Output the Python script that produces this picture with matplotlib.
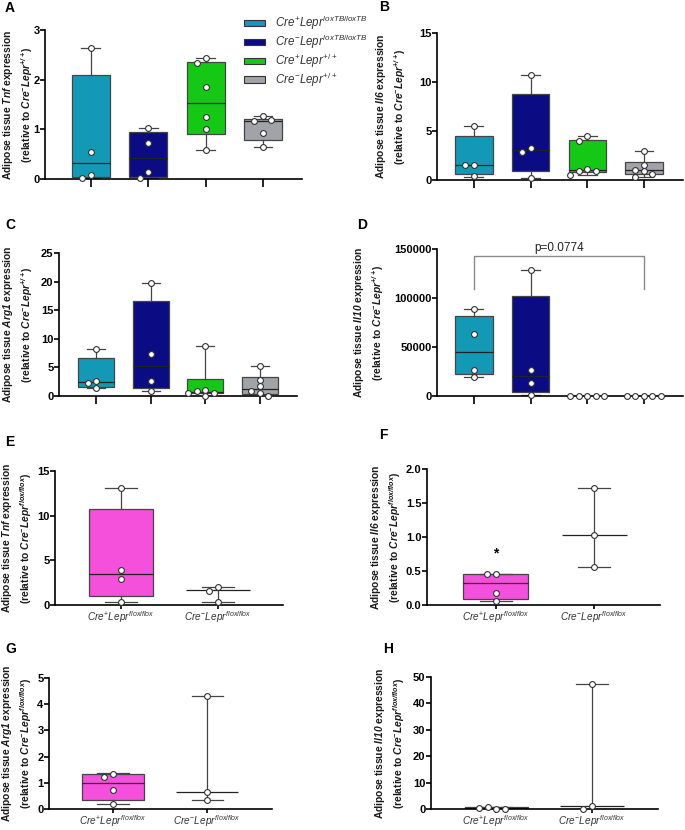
"""
Adipose tissue cytokine expression, box plots A-H
"""
import numpy as np
import matplotlib.pyplot as plt
from matplotlib.patches import Patch

plt.rcParams['font.family'] = ['Liberation Sans', 'DejaVu Sans']
plt.rcParams['mathtext.fontset'] = 'custom'
plt.rcParams['mathtext.rm'] = 'Liberation Sans'
plt.rcParams['mathtext.it'] = 'Liberation Sans:italic'
plt.rcParams['mathtext.bf'] = 'Liberation Sans:bold'
plt.rcParams['mathtext.bfit'] = 'Liberation Sans:italic:bold'

W, H = 685, 830

teal = '#1399b5'
navy = '#0b0b84'
green = '#16c816'
grey = '#a2a2a9'
pink = '#f550dc'

# legend / group labels
groups_top = [r'$\mathit{Cre^{+}Lepr^{loxTB/loxTB}}$', r'$\mathit{Cre^{-}Lepr^{loxTB/loxTB}}$',
              r'$\mathit{Cre^{+}Lepr^{+/+}}$', r'$\mathit{Cre^{-}Lepr^{+/+}}$']
groups_bot = [r'$\mathit{Cre^{+}Lepr^{flox/flox}}$', r'$\mathit{Cre^{-}Lepr^{flox/flox}}$']

# box stats: (min, q1, median, q3, max) and the individual points
A_box = [(0.02, 0.05, 0.32, 2.09, 2.63), (0.02, 0.05, 0.43, 0.94, 1.03),
         (0.59, 0.90, 1.54, 2.35, 2.43), (0.64, 0.78, 1.17, 1.21, 1.26)]
A_pts = [[2.63, 0.54, 0.09, 0.02], [1.03, 0.72, 0.14, 0.02],
         [2.43, 2.33, 1.85, 1.24, 1.00, 0.59], [1.26, 1.16, 1.18, 0.92, 0.64]]

B_box = [(0.35, 0.65, 1.50, 4.47, 5.49), (0.17, 0.89, 3.07, 8.76, 10.7),
         (0.48, 0.78, 0.99, 4.06, 4.53), (0.31, 0.58, 0.99, 1.88, 2.93)]
B_pts = [[5.49, 1.50, 1.50, 0.40], [10.7, 3.30, 2.83, 0.17],
         [4.53, 3.98, 1.09, 0.95, 0.92, 0.48], [2.93, 1.57, 1.06, 0.92, 0.65, 0.31]]

C_box = [(1.35, 1.58, 2.46, 6.73, 8.2), (0.94, 1.35, 5.2, 16.6, 19.8),
         (0.05, 0.53, 0.76, 2.93, 8.78), (0.05, 0.41, 1.29, 3.33, 5.2)]
C_pts = [[8.2, 2.69, 2.28, 1.35], [19.8, 7.43, 2.69, 0.94],
         [8.78, 1.11, 0.88, 0.60, 0.55, 0.05], [5.2, 2.75, 1.70, 0.82, 0.53, 0.05]]

D_box = [(19800, 22200, 45400, 81300, 88500), (1000, 4100, 20200, 102200, 128100),
         (0, 0, 0, 0, 0), (0, 0, 0, 0, 0)]
D_pts = [[88500, 63200, 27000, 19800], [128100, 26300, 13300, 1000],
         [0, 0, 0, 0, 0], [0, 0, 0, 0, 0]]
D_pval = 'p=0.0774'

E_box = [(0.30, 1.00, 3.52, 10.8, 13.15), (0.30, 1.63, 1.63, 1.63, 2.07)]
E_pts = [[13.15, 3.96, 2.96, 0.30], [2.07, 1.60, 0.30]]

F_box = [(0.06, 0.09, 0.32, 0.45, 0.45), (0.56, 1.03, 1.03, 1.03, 1.72)]
F_pts = [[0.45, 0.45, 0.175, 0.06], [1.72, 1.03, 0.56]]

G_box = [(0.19, 0.34, 0.99, 1.32, 1.37), (0.36, 0.65, 0.65, 0.65, 4.32)]
G_pts = [[1.35, 1.22, 0.74, 0.19], [4.32, 0.65, 0.36]]

H_box = [(0.05, 0.15, 0.45, 0.6, 0.7), (0.1, 1.0, 1.0, 1.0, 47.2)]
H_pts = [[0.1, 0.7, 0.05, 0.4], [47.2, 1.0, 0.1]]

fig = plt.figure(figsize=(W / 100, H / 100), dpi=100)


def px_axes(x0, y0, x1, y1):
    # left, top, right, bottom in pixels
    return fig.add_axes([x0 / W, 1 - y1 / H, (x1 - x0) / W, (y1 - y0) / H])


def swarm(vals, ppx, ppy, step=8.5, dmin=6.0):
    # simple beeswarm in pixel space, returns x offsets in data units
    placed = []
    offs = []
    for v in vals:
        cands = [0]
        for i in range(1, 8):
            cands += [-i, i]
        for c in cands:
            xo = c * step
            ok = True
            for (px, py) in placed:
                if np.hypot(xo - px, (v - py) * ppy) < dmin:
                    ok = False
                    break
            if ok:
                break
        placed.append((xo, v))
        offs.append(xo / ppx)
    return offs


def panel(x0, y0, x1, y1, xlim, ymax, yticks, boxdata, pts, colors, width=0.66,
          ticklabels=None, fmt=None):
    ax = px_axes(x0, y0, x1, y1)
    n = len(boxdata)
    pos = np.arange(1, n + 1)
    stats = []
    for b in boxdata:
        stats.append(dict(whislo=b[0], q1=b[1], med=b[2], q3=b[3], whishi=b[4], fliers=[]))
    bp = ax.bxp(stats, positions=pos, widths=width, patch_artist=True, showfliers=False,
                capwidths=width * 0.5,
                boxprops=dict(edgecolor='#444444', linewidth=0.9),
                whiskerprops=dict(color='#444444', linewidth=0.9),
                capprops=dict(color='#444444', linewidth=0.9),
                medianprops=dict(color='#222222', linewidth=0.9))
    for patch, c in zip(bp['boxes'], colors):
        patch.set_facecolor(c)
        if c == 'none':
            patch.set_edgecolor('none')
    ax.set_xlim(*xlim)
    ax.set_ylim(0, ymax)
    ppx = (x1 - x0) / (xlim[1] - xlim[0])
    ppy = (y1 - y0) / ymax
    for p, vals in zip(pos, pts):
        offs = swarm(vals, ppx, ppy)
        ax.plot(p + np.array(offs), vals, 'o', ms=4.2, mfc='white', mec='#333333',
                mew=0.8, zorder=5, clip_on=False)
    ax.spines['top'].set_visible(False)
    ax.spines['right'].set_visible(False)
    ax.spines['left'].set_linewidth(1.2)
    ax.spines['bottom'].set_linewidth(1.2)
    ax.set_yticks(yticks)
    if fmt:
        ax.set_yticklabels([fmt.format(t) for t in yticks])
    else:
        ax.set_yticklabels([str(t) for t in yticks])
    for lbl in ax.get_yticklabels():
        lbl.set_fontweight('bold')
    ax.tick_params(axis='y', length=3.5, width=1.2, labelsize=8, pad=0.5)
    ax.set_xticks(pos)
    if ticklabels:
        ax.set_xticklabels(ticklabels, fontsize=7.2, color='#333333')
        ax.tick_params(axis='x', length=3, width=1.2, pad=0)
    else:
        ax.set_xticklabels([])
        ax.tick_params(axis='x', length=6, width=1.2)
    return ax


top4 = [teal, navy, green, grey]
two = [pink, 'none']

axA = panel(45, 30, 302, 179, (0.2, 4.68), 3, [0, 1, 2, 3], A_box, A_pts, top4)
axB = panel(437, 33, 683, 180, (0.35, 4.69), 15, [0, 5, 10, 15], B_box, B_pts, top4)
axC = panel(59, 253, 297, 396, (0.32, 4.68), 25, [0, 5, 10, 15, 20, 25], C_box, C_pts, top4)
axD = panel(437, 249, 683, 396, (0.35, 4.69), 150000, [0, 50000, 100000, 150000],
            D_box, D_pts, top4)
axE = panel(55, 471, 283, 605, (0.32, 2.67), 15, [0, 5, 10, 15], E_box, E_pts, two,
            ticklabels=groups_bot)
axF = panel(427, 469, 660, 605, (0.30, 2.67), 2.0, [0, 0.5, 1.0, 1.5, 2.0], F_box, F_pts,
            two, ticklabels=groups_bot, fmt='{:.1f}')
axG = panel(49, 678, 272, 809, (0.32, 2.69), 5, [0, 1, 2, 3, 4, 5], G_box, G_pts, two,
            ticklabels=groups_bot)
axH = panel(431, 677, 658, 809, (0.32, 2.69), 50, [0, 10, 20, 30, 40, 50], H_box, H_pts,
            two, ticklabels=groups_bot)

# significance bracket in D
axD.plot([1, 1, 4, 4], [109000, 142500, 142500, 109000], color='#8a8a8a', lw=1.0,
         clip_on=False)
axD.text(2.5, 145000, D_pval, ha='center', va='bottom', fontsize=8.5, color='#222222')

# asterisk in F
axF.text(1, 0.66, '*', ha='center', va='bottom', fontsize=10, fontweight='bold')

# y labels
genes = ['Tnf', 'Il6', 'Arg1', 'Il10', 'Tnf', 'Il6', 'Arg1', 'Il10']
refs = [r'\mathbfit{Cre^{-}Lepr^{+/+}}'] * 4 + [r'\mathbfit{Cre^{-}Lepr^{flox/flox}}'] * 4
lab_x = [18, 391, 18, 369, 17, 386, 17, 390]
axes_all = [axA, axB, axC, axD, axE, axF, axG, axH]
for ax, g, r, lx in zip(axes_all, genes, refs, lab_x):
    bb = ax.get_position()
    yc = (bb.y0 + bb.y1) / 2
    txt = 'Adipose tissue $\\mathbfit{' + g + '}$ expression\n(relative to $' + r + '$)'
    fig.text(lx / W, yc, txt, rotation=90, ha='center', va='center', fontsize=7.4,
             fontweight='bold', multialignment='center', linespacing=1.3, color='#1a1a1a')

# panel letters
letters = [('A', 5, 8), ('B', 379, 7), ('C', 5, 225), ('D', 357, 225),
           ('E', 5, 442), ('F', 379, 435), ('G', 5, 649), ('H', 383, 649)]
for t, x, y in letters:
    fig.text(x / W, 1 - y / H, t, ha='left', va='center', fontsize=10, fontweight='bold')

# legend
handles = [Patch(facecolor=c, edgecolor='#333333', linewidth=0.8) for c in top4]
fig.legend(handles, groups_top, loc='upper left', bbox_to_anchor=(236 / W, 1 - 6 / H),
           frameon=False, fontsize=8.3, handlelength=1.8, handleheight=0.45,
           labelspacing=0.05, handletextpad=0.9, labelcolor='#333333',
           borderpad=0.2)

fig.savefig('out.png', dpi=100)
